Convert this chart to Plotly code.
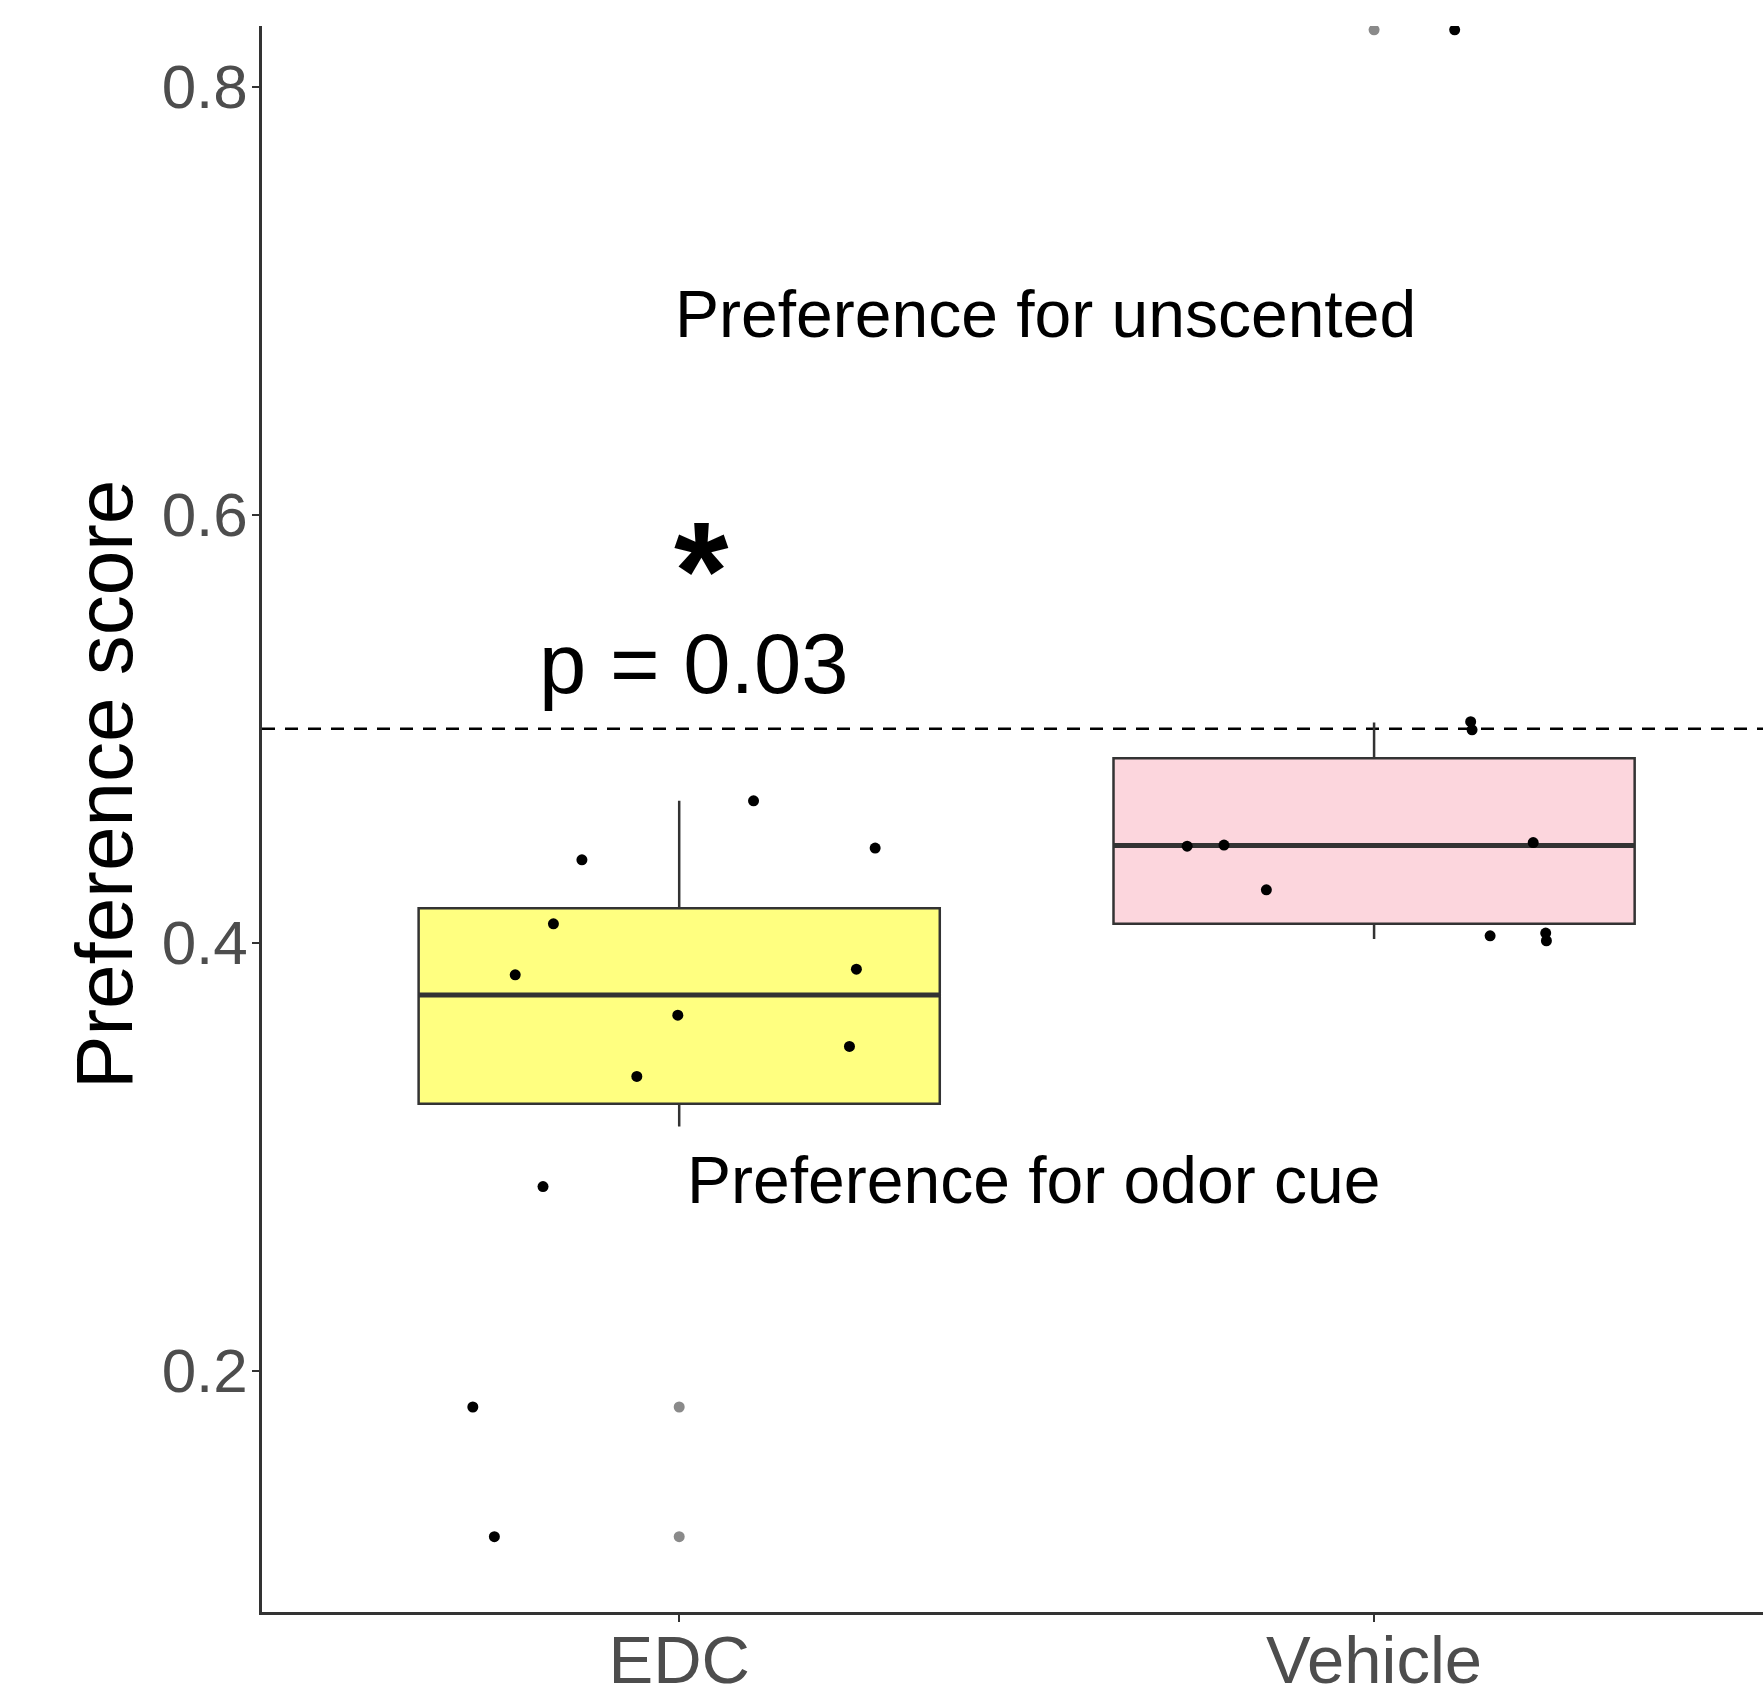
import plotly.graph_objects as go

# ---------------- data ----------------
categories = ["EDC", "Vehicle"]
category_pos = [0, 1]

box_q1 = [0.3247, 0.4089]
box_median = [0.3756, 0.4454]
box_q3 = [0.4161, 0.4862]
box_lower = [0.3141, 0.4017]
box_upper = [0.4663, 0.5029]

edc_outliers = [0.1830, 0.1224]
vehicle_outliers = [0.8266]

edc_scores = [0.4663, 0.4442, 0.4387, 0.4088, 0.3850, 0.3876, 0.3661, 0.3515,
              0.3375, 0.2860, 0.1830, 0.1224]
edc_jitter = [0.107, 0.282, -0.140, -0.181, -0.236, 0.255, -0.002, 0.245,
              -0.061, -0.196, -0.297, -0.266]

vehicle_scores = [0.5033, 0.4995, 0.4451, 0.4456, 0.4468, 0.4247, 0.4032,
                  0.4045, 0.4009, 0.8266]
vehicle_jitter = [0.139, 0.141, -0.269, -0.216, 0.229, -0.155, 0.167, 0.247,
                  0.248, 0.116]

reference_level = 0.5
y_ticks = [0.2, 0.4, 0.6, 0.8]
y_tick_labels = ["0.2", "0.4", "0.6", "0.8"]

# ---------------- styles ----------------
FONT = "Liberation Sans, Arial, Helvetica, sans-serif"
BOX_WIDTH = 0.75
fills = ["#FFFF80", "#FCD6DD"]
DARK = "#333333"

fig = go.Figure()

for i in range(len(categories)):
    fig.add_trace(go.Box(
        x=[category_pos[i]], q1=[box_q1[i]], median=[box_median[i]], q3=[box_q3[i]],
        lowerfence=[box_lower[i]], upperfence=[box_upper[i]],
        width=BOX_WIDTH, fillcolor=fills[i], whiskerwidth=0,
        line=dict(color=DARK, width=2.5), boxpoints=False, hoverinfo="skip",
        showlegend=False,
    ))

# thicker median lines (ggplot style)
for i in range(len(categories)):
    fig.add_trace(go.Scatter(
        x=[category_pos[i] - BOX_WIDTH / 2, category_pos[i] + BOX_WIDTH / 2],
        y=[box_median[i], box_median[i]], mode="lines",
        line=dict(color=DARK, width=5), showlegend=False, hoverinfo="skip",
    ))

# outliers (grey, at the category centre)
fig.add_trace(go.Scatter(
    x=[category_pos[0]] * len(edc_outliers) + [category_pos[1]] * len(vehicle_outliers),
    y=edc_outliers + vehicle_outliers, mode="markers",
    marker=dict(color="#8a8a8a", size=11), showlegend=False,
))

# jittered points
fig.add_trace(go.Scatter(
    x=[category_pos[0] + j for j in edc_jitter] + [category_pos[1] + j for j in vehicle_jitter],
    y=edc_scores + vehicle_scores, mode="markers",
    marker=dict(color="black", size=11), showlegend=False,
))

fig.add_shape(type="line", xref="paper", x0=0, x1=1, yref="y",
              y0=reference_level, y1=reference_level, layer="below",
              line=dict(color="black", width=2.5, dash="13px,10px"))

ann_font = dict(family=FONT, color="black")
fig.add_annotation(x=0.527, y=0.694, text="Preference for unscented", showarrow=False,
                   font=dict(size=66, **ann_font), xanchor="center", yanchor="middle")
fig.add_annotation(x=0.510, y=0.2889, text="Preference for odor cue", showarrow=False,
                   font=dict(size=66, **ann_font), xanchor="center", yanchor="middle")
fig.add_annotation(x=0.022, y=0.5306, text="p = 0.03", showarrow=False,
                   font=dict(size=85, **ann_font), xanchor="center", yanchor="middle")
fig.add_annotation(x=0.0325, y=0.574, text="<b>*</b>", showarrow=False,
                   font=dict(size=140, **ann_font), xanchor="center", yanchor="middle")
fig.add_annotation(xref="paper", x=-0.1046, y=0.4742, text="Preference score",
                   showarrow=False, textangle=-90,
                   font=dict(size=80, **ann_font), xanchor="center", yanchor="middle")

fig.update_xaxes(
    range=[-0.6004, 1.5597], tickmode="array", tickvals=category_pos, ticktext=categories,
    showgrid=False, zeroline=False, showline=True, linecolor=DARK, linewidth=2.5,
    ticks="outside", ticklen=7, tickwidth=2, tickcolor=DARK, automargin=False,
    ticklabelstandoff=-19,
    tickfont=dict(family=FONT, size=67, color="#4D4D4D"),
)
fig.update_yaxes(
    range=[0.0872, 0.8284], tickmode="array", tickvals=y_ticks, ticktext=y_tick_labels,
    showgrid=False, zeroline=False, showline=True, linecolor=DARK, linewidth=2.5,
    ticks="outside", ticklen=7, tickwidth=2, tickcolor=DARK, automargin=False,
    ticklabelstandoff=-8,
    tickfont=dict(family=FONT, size=62, color="#4D4D4D"),
)

fig.update_layout(
    width=1763, height=1685,
    margin=dict(l=262, r=0, t=26, b=73, pad=0, autoexpand=False),
    plot_bgcolor="white", paper_bgcolor="white",
    showlegend=False,
)

fig.write_html("out.html", config={"displayModeBar": False},
               post_script="document.body.style.margin='0';document.body.style.overflow='hidden';")
